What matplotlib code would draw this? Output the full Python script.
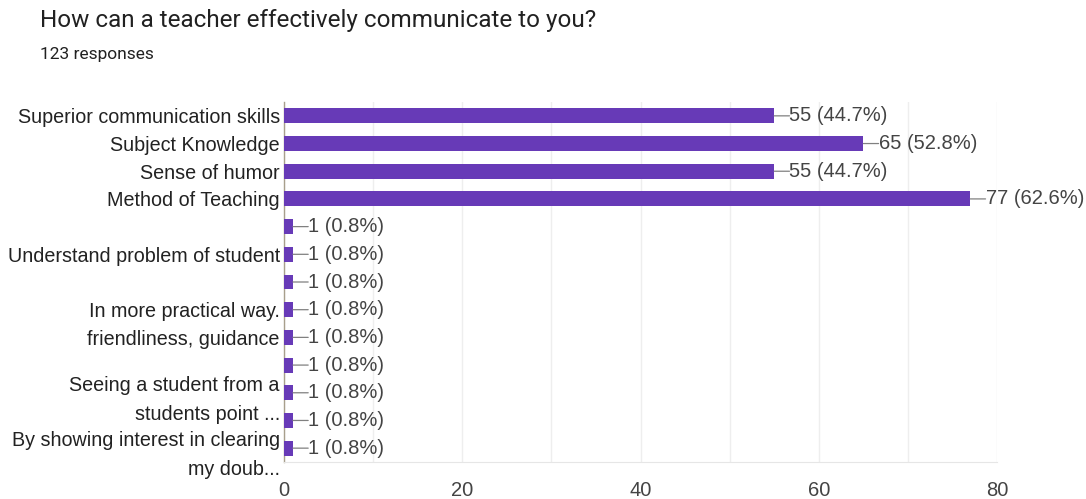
import numpy as np
import matplotlib
matplotlib.use('Agg')
import matplotlib.pyplot as plt

title = 'How can a teacher effectively communicate to you?'
subtitle = '123 responses'
labels = ['Superior communication skills', 'Subject Knowledge', 'Sense of humor',
          'Method of Teaching', '', 'Understand problem of student', '',
          'In more practical way.', 'friendliness, guidance', '',
          'Seeing a student from a\nstudents point ...', '',
          'By showing interest in clearing\nmy doub...']
counts = [55, 65, 55, 77, 1, 1, 1, 1, 1, 1, 1, 1, 1]
total = 123
xticks = [0, 20, 40, 60, 80]

bar_color = '#673ab7'
text_color = '#222222'

fig = plt.figure(figsize=(10.86, 4.99), dpi=100)
ax = fig.add_axes([284/1086, 37/499, 713/1086, 360/499])

y = np.arange(len(counts))
ax.barh(y, counts, height=0.54, color=bar_color, zorder=3)

# value labels with a short leader line
for i, v in enumerate(counts):
    ax.annotate('', xy=(v, i), xytext=(11, 0), textcoords='offset points',
                arrowprops=dict(arrowstyle='-', color='#808080', lw=0.9,
                                shrinkA=0, shrinkB=0), zorder=4)
    ax.annotate('%d (%.1f%%)' % (v, v * 100.0 / total), xy=(v, i),
                xytext=(11, 0), textcoords='offset points', va='center',
                ha='left', fontsize=14.5, color='#444444',
                family='Liberation Sans', zorder=4)

ax.set_xlim(0, 80)
ax.set_ylim(len(counts) - 0.5, -0.5)
ax.set_xticks(xticks)
ax.set_xticks(np.arange(10, 80, 20), minor=True)
ax.set_xticklabels([str(t) for t in xticks], fontsize=14.5, color='#444444',
                   family='Liberation Sans')
ax.set_yticks(y)
ax.set_yticklabels(labels, fontsize=14.2, color=text_color,
                   family='Liberation Sans', linespacing=1.65)
ax.tick_params(axis='both', length=0, pad=3)
ax.tick_params(axis='x', which='minor', length=0)
ax.tick_params(axis='x', pad=14)
ax.grid(axis='x', which='both', color='#eeeeee', lw=1, zorder=0)

for s in ['top', 'right']:
    ax.spines[s].set_visible(False)
ax.spines['bottom'].set_color('#e6e6e6')
ax.spines['left'].set_color('#a89f8c')
ax.spines['left'].set_linewidth(1)

fig.text(40/1086, 1 - 21/499, title, fontsize=17.5, color='#212121',
         family='Roboto', va='center', ha='left')
fig.text(40/1086, 1 - 55/499, subtitle, fontsize=12.5, color='#212121',
         family='Roboto', va='center', ha='left')

fig.savefig('out.png', dpi=100)
